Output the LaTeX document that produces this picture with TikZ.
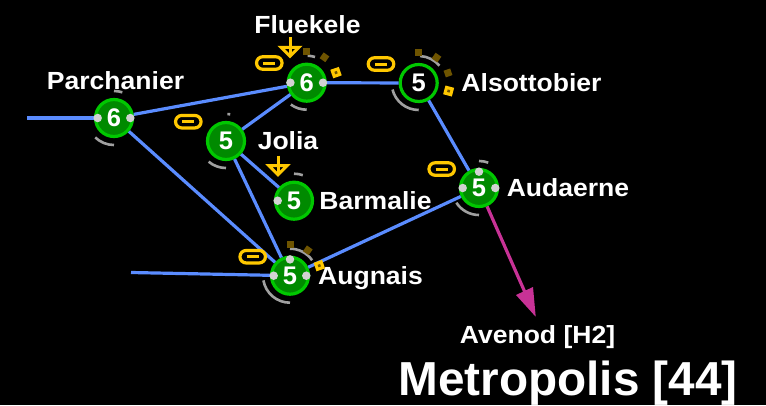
\documentclass[tikz,border=0pt]{standalone}
\usepackage{fontspec}
\usetikzlibrary{calc}
\setmainfont{Liberation Sans}
\newfontfamily\lblfont[FakeStretch=1.07]{Liberation Sans}
\definecolor{linkblue}{HTML}{5A8CFF}
\definecolor{ringgreen}{HTML}{00C800}
\definecolor{fillgreen}{HTML}{008A00}
\definecolor{ygold}{HTML}{FFC800}
\definecolor{ydark}{HTML}{6E5400}
\definecolor{dotgrey}{HTML}{D2D2D2}
\definecolor{arcgrey}{HTML}{A0A0A0}
\definecolor{magentaarrow}{HTML}{C83296}
\tikzset{
  router/.style={circle,draw=ringgreen,fill=fillgreen,line width=3.2pt,minimum size=37pt,inner sep=0pt,text=white,font=\bfseries\fontsize{25.5}{26}\selectfont},
  hollow/.style={router,fill=black},
  link/.style={draw=linkblue,line width=3.2pt},
  lbl/.style={anchor=base,text=white,inner sep=0pt,font=\lblfont\bfseries\fontsize{24.8}{26}\selectfont},
  garc/.style={draw=arcgrey,line width=2.6pt},
  sqd/.style={rectangle,fill=ydark,minimum size=7pt,inner sep=0pt},
  sqy/.style={rectangle,fill=ygold,minimum size=9pt,inner sep=0pt},
  sqc/.style={rectangle,fill=ydark,minimum size=2.6pt,inner sep=0pt},
  gdot/.style={circle,fill=dotgrey,minimum size=8.5pt,inner sep=0pt},
  pill/.style={rectangle,rounded corners=6.2pt,draw=ygold,line width=3.2pt,minimum width=25.5pt,minimum height=12.5pt,inner sep=0pt},
  ant/.style={draw=ygold,line width=3pt,line join=miter},
}
\newcommand\greyarc[4]{\draw[garc] ([shift=(#2:#4)]#1.center) arc[start angle=#2,end angle=#3,radius=#4];}
\newcommand\darksq[2]{\node[sqd,rotate=#2] (#1d#2) at ([shift=(#2:31)]#1.center) {};}
\newcommand\yelsq[2]{\node[sqy,rotate=#2] (#1y#2) at ([shift=(#2:31)]#1.center) {};\node[sqc,rotate=#2] (#1c#2) at (#1y#2.center) {};}
\newcommand\gdots[2]{\node[gdot] (#1g#2) at ([shift=(#2:16.3)]#1.center) {};}
\newcommand\mypill[3]{\node[pill] (#1) at (#2,-#3) {};\draw[ygold,line width=3pt] ([xshift=-6pt]#1.center) -- ([xshift=6pt]#1.center);}
\newcommand\myant[3]{\coordinate (#1t) at (#2,-#3);
  \draw[ant] (#1t) -- ++(0,-19);
  \draw[ant] ([shift={(-9,-10)}]#1t) -- ([shift={(9,-10)}]#1t) -- ([shift={(0,-19)}]#1t) -- cycle;}
\begin{document}
\begin{tikzpicture}[x=1pt,y=1pt]
\fill[black] (0,0) rectangle (766,-405);
\useasboundingbox (0,0) rectangle (766,-405);
% routers
\node[router] (par) at (114,-118) {6};
\node[router] (flu) at (306.7,-82.7) {6};
\node[hollow] (als) at (418.7,-83) {5};
\node[router] (jol) at (226,-141) {5};
\node[router] (bar) at (294,-200.7) {5};
\node[router] (aud) at (479,-188) {5};
\node[router] (aug) at (290,-275.7) {5};
\coordinate (parfree) at (27,-118);
\coordinate (augfree) at (131,-272.5);
\coordinate (avenod) at (535.7,-316.7);
% links
\path[link] (parfree) -- (par);
\path[link] (augfree) -- (aug);
\path[link] (par) -- (flu);
\path[link] (par) -- (aug);
\path[link] (jol) -- (flu);
\path[link] (jol) -- (bar);
\path[link] (jol) -- (aug);
\path[link] (flu) -- (als);
\path[link] (als) -- (aud);
\path[link] (aud) -- (aug);
% exit arrow
\draw[magentaarrow,line width=3.2pt] (aud) -- ($(aud)!0.83!(avenod)$);
\fill[magentaarrow] (avenod) -- (516,-295) -- (533,-287) -- cycle;
% grey arcs
\greyarc{flu}{234}{270}{27}\greyarc{flu}{88}{72}{27}
\greyarc{als}{194}{270}{27}\greyarc{als}{87}{40}{27}
\greyarc{par}{226}{270}{27}\greyarc{par}{90}{72}{27}
\greyarc{jol}{230}{270}{27}\greyarc{jol}{87}{81}{27}
\greyarc{bar}{90}{71}{27}
\greyarc{aug}{190}{270}{27}\greyarc{aug}{90}{35}{27}
\greyarc{aud}{213}{270}{27}\greyarc{aud}{90}{70}{27}
% squares
\darksq{flu}{90}\darksq{flu}{55}\yelsq{flu}{19}
\darksq{als}{90}\darksq{als}{55}\darksq{als}{19}\yelsq{als}{-15}
\darksq{aug}{90}\darksq{aug}{55}\yelsq{aug}{19}
% dots
\gdots{par}{180}\gdots{par}{0}
\gdots{flu}{180}\gdots{flu}{0}
\gdots{bar}{180}
\gdots{aug}{180}\gdots{aug}{0}\gdots{aug}{90}
\gdots{aud}{180}\gdots{aud}{0}\gdots{aud}{90}
% pills
\mypill{pa}{269.3}{63}
\mypill{pb}{381}{64}
\mypill{pc}{188.3}{121.7}
\mypill{pd}{252.7}{256.7}
\mypill{pe}{441.7}{169}
% antennas
\myant{anta}{290}{37.3}
\myant{antb}{278}{155.7}
% labels
\node[lbl] (tflu) at (307.5,-33.5) {Fluekele};
\node[lbl] (tpar) at (115.5,-89.5) {Parchanier};
\node[lbl] (tjol) at (288,-149.5) {Jolia};
\node[lbl] (tbar) at (375.5,-209.5) {Barmalie};
\node[lbl] (tals) at (531.5,-91.5) {Alsottobier};
\node[lbl] (taud) at (568,-196.5) {Audaerne};
\node[lbl] (taug) at (370.5,-284.5) {Augnais};
\node[lbl] (tave) at (537.5,-343.3) {Avenod [H2]};
\node[lbl,font=\bfseries\fontsize{47.7}{48}\selectfont] (tmet) at (568,-395.5) {Metropolis [44]};
\end{tikzpicture}
\end{document}
